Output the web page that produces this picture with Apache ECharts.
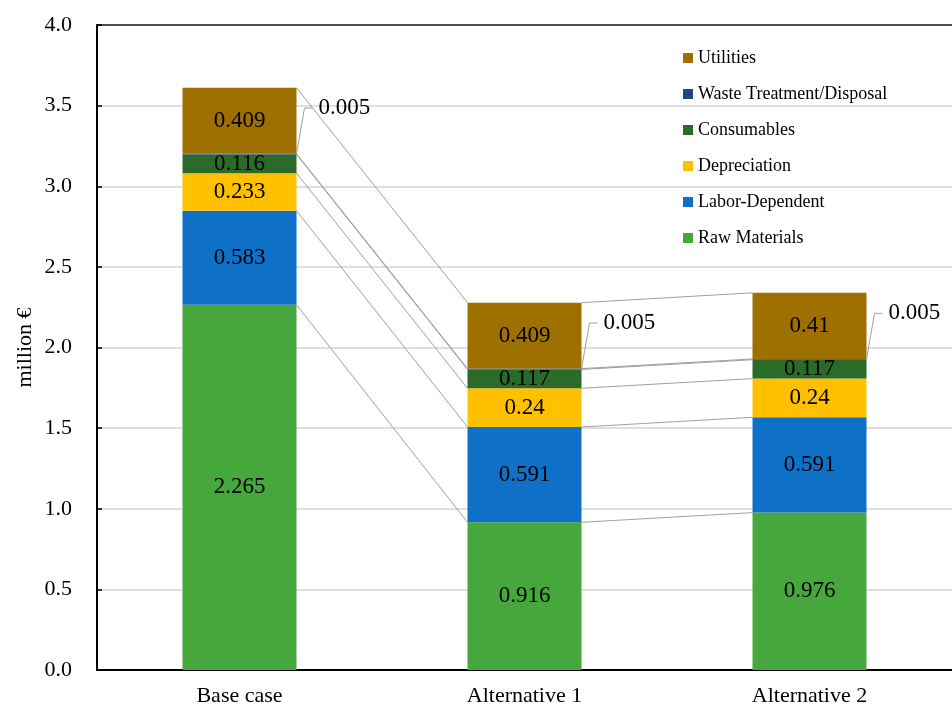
<!DOCTYPE html>
<html>
<head>
<meta charset="utf-8">
<script src="https://cdn.jsdelivr.net/npm/echarts@6/dist/echarts.min.js"></script>
<style>html,body{margin:0;padding:0;background:#fff;}#c{width:952px;height:707px;}</style>
</head>
<body>
<div id="c"></div>
<script>
const categories = ['Base case', 'Alternative 1', 'Alternative 2'];
const rawMaterials = [2.265, 0.916, 0.976];
const laborDependent = [0.583, 0.591, 0.591];
const depreciation = [0.233, 0.24, 0.24];
const consumables = [0.116, 0.117, 0.117];
const wasteTreatment = [0.005, 0.005, 0.005];
const utilities = [0.409, 0.409, 0.41];
const seriesNames = ['Raw Materials', 'Labor-Dependent', 'Depreciation', 'Consumables', 'Waste Treatment/Disposal', 'Utilities'];
const seriesValues = [rawMaterials, laborDependent, depreciation, consumables, wasteTreatment, utilities];
const seriesColors = ['#46a83c', '#0f70c8', '#ffc000', '#2b6b29', '#1c4a80', '#9d7000'];
const legendOrder = ['Utilities', 'Waste Treatment/Disposal', 'Consumables', 'Depreciation', 'Labor-Dependent', 'Raw Materials'];
const yMin = 0, yMax = 4, yInterval = 0.5;

const FONT = '"Liberation Serif", "Times New Roman", serif';
const BAR_FRAC = 0.4;

// cumulative tops per level per category
const cumulative = [];
seriesValues.forEach((vals, k) => {
  cumulative.push(vals.map((v, i) => (k > 0 ? cumulative[k - 1][i] : 0) + v));
});
const connectorData = [];
for (let i = 0; i < categories.length - 1; i++) {
  for (let k = 0; k < cumulative.length; k++) {
    connectorData.push([i, cumulative[k][i], cumulative[k][i + 1]]);
  }
}
const wasteIdx = 4;
const leaderData = categories.map((c, i) => [i, cumulative[wasteIdx][i] - wasteTreatment[i] / 2, wasteTreatment[i]]);

const barSeries = seriesNames.map((name, k) => ({
  name: name,
  type: 'bar',
  stack: 'total',
  barWidth: (BAR_FRAC * 100) + '%',
  data: seriesValues[k],
  itemStyle: { color: seriesColors[k] },
  label: {
    show: k !== wasteIdx,
    position: 'inside',
    color: '#000',
    fontFamily: FONT,
    fontSize: 23,
    formatter: p => String(p.value)
  },
  emphasis: { disabled: true }
}));

const chart = echarts.init(document.getElementById('c'));
chart.setOption({
  animation: false,
  backgroundColor: '#fff',
  grid: { left: 97, right: 0, top: 25, bottom: 37 },
  legend: {
    data: legendOrder,
    orient: 'vertical',
    left: 678,
    top: 43,
    icon: 'rect',
    itemWidth: 10,
    itemHeight: 10,
    itemGap: 16,
    textStyle: { fontFamily: FONT, fontSize: 18, color: '#000', lineHeight: 20 }
  },
  xAxis: [{
    type: 'category',
    data: categories,
    axisLine: { lineStyle: { color: '#000', width: 2 } },
    axisTick: { show: false },
    axisLabel: { fontFamily: FONT, fontSize: 22, color: '#000', margin: 15 }
  }, {
    type: 'category',
    position: 'top',
    data: categories,
    axisLine: { lineStyle: { color: '#222', width: 1.5 } },
    axisTick: { show: false },
    axisLabel: { show: false }
  }],
  yAxis: {
    type: 'value',
    min: yMin, max: yMax, interval: yInterval,
    name: 'million €',
    nameLocation: 'middle',
    nameGap: 61,
    nameMoveOverlap: false,
    nameTextStyle: { fontFamily: FONT, fontSize: 22, color: '#000' },
    axisLine: { show: true, lineStyle: { color: '#000', width: 2 } },
    axisTick: { show: true, inside: true, length: 5, lineStyle: { color: '#000', width: 1.5 } },
    axisLabel: { fontFamily: FONT, fontSize: 22, color: '#000', margin: 25, formatter: v => v.toFixed(1) },
    splitLine: { lineStyle: { color: '#d4d4d4', width: 1.5 } }
  },
  series: barSeries.concat([{
    type: 'custom',
    name: 'connectors',
    silent: true,
    clip: false,
    data: connectorData,
    encode: { x: 0, y: 1 },
    z: 1,
    renderItem: (params, api) => {
      const i = api.value(0);
      const p1 = api.coord([i, api.value(1)]);
      const p2 = api.coord([i + 1, api.value(2)]);
      const half = api.size([1, 0])[0] * BAR_FRAC / 2;
      return {
        type: 'line',
        shape: { x1: p1[0] + half, y1: p1[1], x2: p2[0] - half, y2: p2[1] },
        style: { stroke: '#a0a0a0', lineWidth: 1 }
      };
    }
  }, {
    type: 'custom',
    name: 'leaders',
    silent: true,
    clip: false,
    data: leaderData,
    encode: { x: 0, y: 1 },
    z: 5,
    renderItem: (params, api) => {
      const i = api.value(0);
      const p = api.coord([i, api.value(1)]);
      const half = api.size([1, 0])[0] * BAR_FRAC / 2;
      const x0 = p[0] + half, y0 = p[1];
      const yTop = y0 - 46;
      return {
        type: 'group',
        children: [{
          type: 'polyline',
          shape: { points: [[x0, y0], [x0 + 8, yTop], [x0 + 16, yTop]] },
          style: { stroke: '#a0a0a0', lineWidth: 1, fill: null }
        }, {
          type: 'text',
          style: {
            x: x0 + 22, y: yTop,
            text: String(api.value(2)),
            fontFamily: FONT, fontSize: 23, fill: '#000',
            verticalAlign: 'middle', align: 'left'
          }
        }]
      };
    }
  }])
});
</script>
</body>
</html>
